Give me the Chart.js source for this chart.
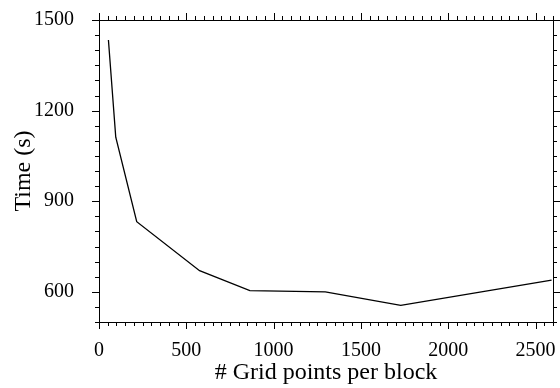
<!DOCTYPE html>
<html>
<head>
<meta charset="utf-8">
<script src="https://cdn.jsdelivr.net/npm/chart.js@4/dist/chart.umd.min.js"></script>
<style>
  html, body { margin: 0; padding: 0; background: #fff; }
  #wrap { width: 560px; height: 388px; }
</style>
</head>
<body>
<div id="wrap"><canvas id="chart"></canvas></div>
<script>
// Grid points per block vs. run time
var gridPoints = [54, 96, 216, 576, 864, 1296, 1728, 2592];
var timeSeconds = [1434, 1112, 832, 670, 604, 600, 555, 639];
var xTickLabels = [0, 500, 1000, 1500, 2000, 2500];
var yTickLabels = [600, 900, 1200, 1500];

var FONT = "'Liberation Serif', 'Times New Roman', serif";

// Draw the box and the major/minor tick marks on all four sides
var frameTicks = {
    id: 'frameTicks',
    afterDraw: function (chart) {
        var ctx = chart.ctx;
        var area = chart.chartArea;
        var xs = chart.scales.x;
        var ys = chart.scales.y;
        ctx.save();
        ctx.strokeStyle = '#000';
        ctx.lineWidth = 1;
        ctx.strokeRect(Math.round(area.left) + 0.5, Math.round(area.top) + 0.5,
            Math.round(area.right - area.left), Math.round(area.bottom - area.top));
        ctx.beginPath();
        var v, p, len;
        for (v = xs.min; v <= xs.max; v += 50) {
            p = Math.round(xs.getPixelForValue(v)) + 0.5;
            len = xTickLabels.indexOf(v) >= 0 ? 7 : 4;
            ctx.moveTo(p, area.bottom); ctx.lineTo(p, area.bottom + len);
            ctx.moveTo(p, area.top); ctx.lineTo(p, area.top - len);
        }
        for (v = ys.min; v <= ys.max; v += 50) {
            p = Math.round(ys.getPixelForValue(v)) + 0.5;
            len = yTickLabels.indexOf(v) >= 0 ? 7 : 4;
            ctx.moveTo(area.left, p); ctx.lineTo(area.left - len, p);
            ctx.moveTo(area.right, p); ctx.lineTo(area.right + len, p);
        }
        ctx.stroke();
        ctx.restore();
    }
};

new Chart(document.getElementById('chart'), {
    type: 'line',
    data: {
        datasets: [{
            data: gridPoints.map(function (g, i) { return { x: g, y: timeSeconds[i] }; }),
            borderColor: '#000',
            borderWidth: 1.3,
            pointRadius: 0,
            tension: 0,
            fill: false
        }]
    },
    options: {
        responsive: true,
        maintainAspectRatio: false,
        animation: false,
        layout: { padding: { top: 20, right: 7, left: 0, bottom: 0 } },
        plugins: { legend: { display: false }, tooltip: { enabled: false } },
        scales: {
            x: {
                type: 'linear',
                min: 0,
                max: 2600,
                grid: { display: false },
                border: { display: false },
                afterFit: function (s) {
                    s.height = 66;
                    s.paddingLeft = 0;
                    s.paddingRight = 0;
                },
                ticks: {
                    stepSize: 50,
                    autoSkip: false,
                    maxRotation: 0,
                    padding: 9,
                    color: '#000',
                    font: { family: FONT, size: 20 },
                    callback: function (v) { return xTickLabels.indexOf(v) >= 0 ? String(v) : ''; }
                },
                title: {
                    display: true,
                    text: '# Grid points per block',
                    color: '#000',
                    font: { family: FONT, size: 24 },
                    padding: { top: 0, bottom: 1 }
                }
            },
            y: {
                min: 500,
                max: 1500,
                grid: { display: false },
                border: { display: false },
                afterFit: function (s) {
                    s.width = 99;
                    s.paddingTop = 0;
                    s.paddingBottom = 0;
                },
                ticks: {
                    stepSize: 50,
                    autoSkip: false,
                    padding: 17,
                    color: '#000',
                    font: { family: FONT, size: 20 },
                    callback: function (v) { return yTickLabels.indexOf(v) >= 0 ? String(v) : ''; }
                },
                title: {
                    display: true,
                    text: 'Time (s)',
                    color: '#000',
                    font: { family: FONT, size: 24 },
                    padding: { top: 9, bottom: 0 }
                }
            }
        }
    },
    plugins: [frameTicks]
});
</script>
</body>
</html>
